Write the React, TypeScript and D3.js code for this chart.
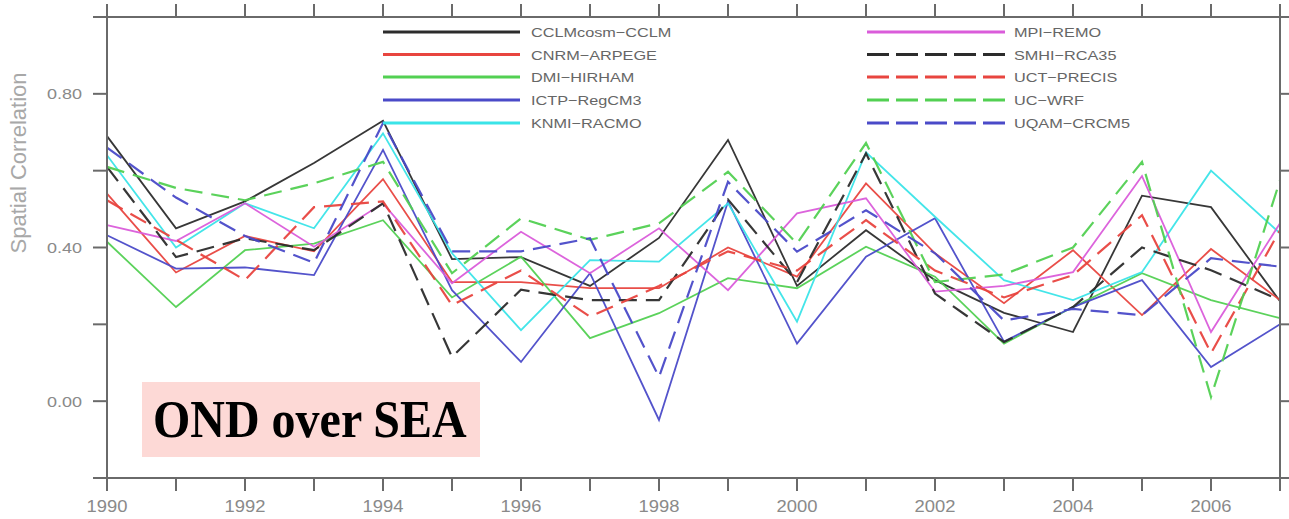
import React from "react";
import * as d3 from "d3";

const years = d3.range(1990, 2008);
const xTickYears = d3.range(1990, 2008);
const xLabelYears = [1990, 1992, 1994, 1996, 1998, 2000, 2002, 2004, 2006];
const yTicks = [-0.2, 0, 0.2, 0.4, 0.6, 0.8, 1.0];
const yLabels = [0, 0.4, 0.8];

const seriesNames = [
  "CCLMcosm−CCLM", "CNRM−ARPEGE", "DMI−HIRHAM", "ICTP−RegCM3", "KNMI−RACMO",
  "MPI−REMO", "SMHI−RCA35", "UCT−PRECIS", "UC−WRF", "UQAM−CRCM5",
];

const cclm = [0.69, 0.45, 0.52, 0.62, 0.73, 0.37, 0.375, 0.30, 0.425, 0.68, 0.30, 0.445, 0.315, 0.23, 0.18, 0.535, 0.505, 0.26];
const cnrm = [0.54, 0.335, 0.43, 0.39, 0.578, 0.31, 0.31, 0.294, 0.294, 0.40, 0.324, 0.567, 0.385, 0.255, 0.393, 0.224, 0.396, 0.263];
const dmi = [0.415, 0.245, 0.393, 0.41, 0.471, 0.27, 0.376, 0.164, 0.229, 0.32, 0.294, 0.402, 0.324, 0.15, 0.245, 0.333, 0.263, 0.216];
const ictp = [0.432, 0.345, 0.348, 0.328, 0.654, 0.289, 0.102, 0.333, -0.049, 0.52, 0.15, 0.376, 0.476, 0.155, 0.245, 0.315, 0.089, 0.2];
const knmi = [0.64, 0.40, 0.515, 0.45, 0.697, 0.385, 0.185, 0.367, 0.363, 0.515, 0.207, 0.648, 0.48, 0.315, 0.263, 0.336, 0.60, 0.437];
const mpi = [0.458, 0.417, 0.515, 0.402, 0.515, 0.307, 0.441, 0.333, 0.45, 0.289, 0.489, 0.528, 0.285, 0.30, 0.336, 0.586, 0.18, 0.463];
const smhi = [0.61, 0.375, 0.424, 0.393, 0.515, 0.115, 0.29, 0.263, 0.263, 0.525, 0.31, 0.645, 0.28, 0.154, 0.245, 0.40, 0.341, 0.263];
const uct = [0.523, 0.42, 0.315, 0.505, 0.52, 0.25, 0.34, 0.22, 0.30, 0.39, 0.34, 0.471, 0.34, 0.27, 0.328, 0.484, 0.125, 0.445];
const ucwrf = [0.61, 0.555, 0.523, 0.567, 0.623, 0.333, 0.476, 0.42, 0.463, 0.597, 0.41, 0.672, 0.31, 0.33, 0.40, 0.623, 0.011, 0.575];
const uqam = [0.66, 0.53, 0.43, 0.36, 0.724, 0.39, 0.39, 0.424, 0.063, 0.571, 0.389, 0.497, 0.385, 0.21, 0.24, 0.224, 0.372, 0.35];

const seriesValues = [cclm, cnrm, dmi, ictp, knmi, mpi, smhi, uct, ucwrf, uqam];
const seriesColors = ["#2c2c2c", "#e8453f", "#52d052", "#4a4ac8", "#3ae4e8", "#da5cda", "#2c2c2c", "#e8453f", "#52d052", "#4a4ac8"];
const seriesDashed = [false, false, false, false, false, false, true, true, true, true];

const W = 1289;
const H = 519;
const left = 107;
const right = 1280;
const top = 17;
const bottom = 478;
const axisColor = "#6a6a6a";
const textColor = "#8a8a8a";

export default function App() {
  const x = d3.scaleLinear().domain([1990, 2007]).range([left, right]);
  const y = d3.scaleLinear().domain([-0.2, 1.0]).range([bottom, top]);
  const line = d3
    .line<number>()
    .x((_, i) => x(years[i]))
    .y((d) => y(d));

  const legendRowsY = [32, 54.5, 77, 100, 123];
  const legendGroups = [
    { x1: 383, x2: 520, tx: 531 },
    { x1: 867, x2: 1005, tx: 1014 },
  ];

  return (
    <svg
      width={W}
      height={H}
      style={{ position: "absolute", left: 0, top: 0, background: "#fff" }}
      fontFamily="'Liberation Sans', Arial, sans-serif"
    >
      {/* data lines */}
      <g>
        {seriesValues.map((vals, i) => (
          <path
            key={i}
            d={line(vals) || ""}
            fill="none"
            stroke={seriesColors[i]}
            strokeWidth={seriesDashed[i] ? 2.2 : 1.8}
            strokeDasharray={seriesDashed[i] ? "18,9" : undefined}
            strokeLinejoin="miter"
            opacity={0.95}
          />
        ))}
      </g>

      {/* frame */}
      <rect x={left} y={top} width={right - left} height={bottom - top} fill="none" stroke={axisColor} strokeWidth={2} />

      {/* x ticks top & bottom */}
      {xTickYears.map((yr) => (
        <g key={yr}>
          <line x1={x(yr)} x2={x(yr)} y1={top} y2={top - 13} stroke={axisColor} strokeWidth={2} />
          <line x1={x(yr)} x2={x(yr)} y1={bottom} y2={bottom + 13} stroke={axisColor} strokeWidth={2} />
        </g>
      ))}
      {xLabelYears.map((yr) => (
        <text
          key={yr}
          transform={`translate(${x(yr)},512) scale(1.15,1)`}
          textAnchor="middle"
          fontSize={16}
          fill={textColor}
        >
          {yr}
        </text>
      ))}

      {/* y ticks left & right */}
      {yTicks.map((v) => (
        <g key={v}>
          <line x1={left} x2={left - 14} y1={y(v)} y2={y(v)} stroke={axisColor} strokeWidth={2} />
          <line x1={right} x2={right + 14} y1={y(v)} y2={y(v)} stroke={axisColor} strokeWidth={2} />
        </g>
      ))}
      {yLabels.map((v) => (
        <text
          key={v}
          transform={`translate(82,${y(v) + 5.5}) scale(1.2,1)`}
          textAnchor="end"
          fontSize={15}
          fill={textColor}
        >
          {d3.format(".2f")(v)}
        </text>
      ))}
      <text
        transform={`translate(26,163) rotate(-90)`}
        textAnchor="middle"
        fontSize={22}
        fill="#a8a8a8"
      >
        Spatial Correlation
      </text>

      {/* legend */}
      {seriesNames.map((name, i) => {
        const g = legendGroups[i < 5 ? 0 : 1];
        const ry = legendRowsY[i % 5];
        return (
          <g key={name}>
            <line
              x1={g.x1}
              x2={g.x2}
              y1={ry}
              y2={ry}
              stroke={seriesColors[i]}
              strokeWidth={3}
              strokeDasharray={seriesDashed[i] ? "22,7" : undefined}
            />
            <text
              transform={`translate(${g.tx},${ry + 5}) scale(1.25,1)`}
              fontSize={13}
              fill="#666"
            >
              {name}
            </text>
          </g>
        );
      })}

      {/* annotation */}
      <rect x={142} y={382} width={338} height={75} fill="#fdd9d6" />
      <text
        transform="translate(153,437) scale(1,1.1)"
        fontFamily="'Liberation Serif', 'Times New Roman', serif"
        fontWeight="bold"
        fontSize={48}
        fill="#000"
      >
        OND over SEA
      </text>
    </svg>
  );
}
